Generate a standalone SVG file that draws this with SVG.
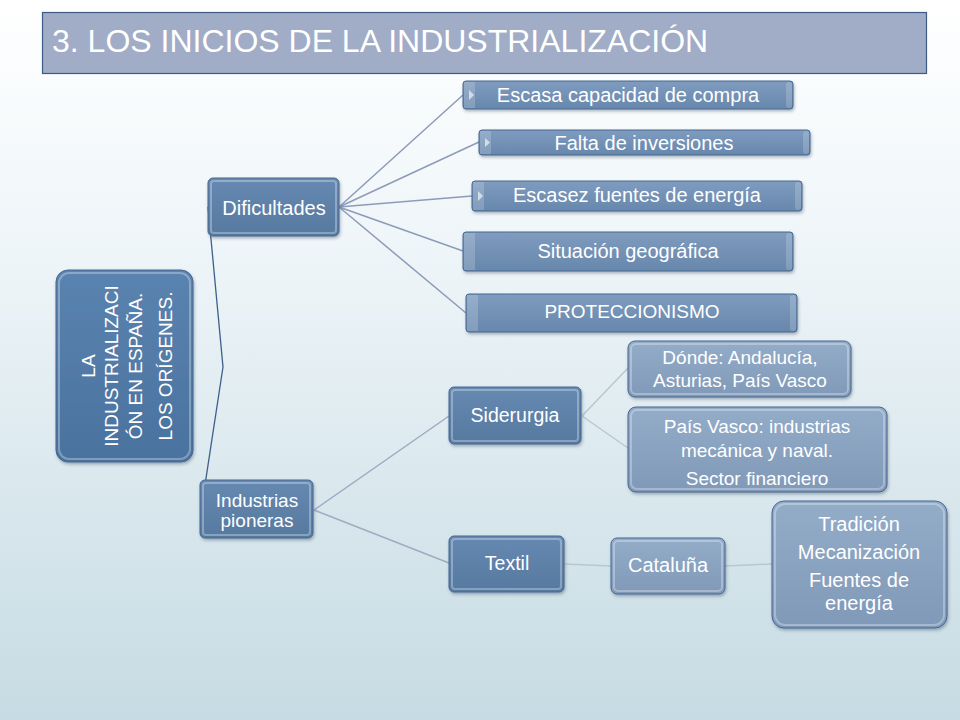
<svg xmlns="http://www.w3.org/2000/svg" width="960" height="720" viewBox="0 0 960 720">
<defs>
<linearGradient id="bg" x1="0" y1="0" x2="0" y2="1">
<stop offset="0" stop-color="#ffffff"/>
<stop offset="0.35" stop-color="#eef5f8"/>
<stop offset="1" stop-color="#c6dbe3"/>
</linearGradient>
<linearGradient id="gDark" x1="0" y1="0" x2="0" y2="1">
<stop offset="0" stop-color="#5a83b0"/>
<stop offset="1" stop-color="#4a729e"/>
</linearGradient>
<linearGradient id="gMid" x1="0" y1="0" x2="0" y2="1">
<stop offset="0" stop-color="#6689b2"/>
<stop offset="1" stop-color="#56799f"/>
</linearGradient>
<linearGradient id="gList" x1="0" y1="0" x2="0" y2="1">
<stop offset="0" stop-color="#7f9cbf"/>
<stop offset="1" stop-color="#6787ac"/>
</linearGradient>
<linearGradient id="gLight" x1="0" y1="0" x2="0" y2="1">
<stop offset="0" stop-color="#93acc8"/>
<stop offset="1" stop-color="#8099b8"/>
</linearGradient>
<filter id="sh" x="-10%" y="-10%" width="120%" height="130%">
<feDropShadow dx="1" dy="2" stdDeviation="1.5" flood-color="#2c3e55" flood-opacity="0.35"/>
</filter>
</defs>
<style>
.t{font-family:"Liberation Sans",Arial,sans-serif;fill:#ffffff;text-anchor:middle;}
.n{stroke:#476892;stroke-width:1;filter:url(#sh);}
.hl{fill:none;stroke:#ffffff;stroke-opacity:0.3;stroke-width:2;}
.c1{fill:none;stroke:#8c9bb9;stroke-width:1.5;}
.c2{fill:none;stroke:#9eacc2;stroke-width:1.5;}
.c3{fill:none;stroke:#bac6d2;stroke-width:1.5;}
.tab{fill:#ffffff;fill-opacity:0.18;}
.tri{fill:#d3dde9;}
</style>
<rect x="0" y="0" width="960" height="720" fill="url(#bg)"/>

<g id="title">
<rect x="42.5" y="12.5" width="884" height="61" fill="#a1acc7" stroke="#3d5a84" stroke-width="1.2"/>
<text x="52" y="52" font-family="Liberation Sans, Arial, sans-serif" font-size="32" fill="#ffffff">3. LOS INICIOS DE LA INDUSTRIALIZACIÓN</text>
</g>

<g id="connectors">
<polyline class="c1" points="208,207 223,367 201,511" style="stroke:#3e608a;stroke-width:1.3"/>
<line class="c1" x1="339" y1="207" x2="463" y2="95"/>
<line class="c1" x1="339" y1="207" x2="479" y2="142"/>
<line class="c1" x1="339" y1="207" x2="472" y2="196"/>
<line class="c1" x1="339" y1="207" x2="463" y2="251"/>
<line class="c1" x1="339" y1="207" x2="466" y2="313"/>
<line class="c2" x1="314" y1="510" x2="449" y2="416"/>
<line class="c2" x1="314" y1="510" x2="449" y2="563"/>
<line class="c3" x1="582" y1="416" x2="628" y2="368"/>
<line class="c3" x1="582" y1="416" x2="628" y2="448"/>
<line class="c3" x1="564" y1="564" x2="611" y2="566"/>
<line class="c3" x1="725" y1="566" x2="772" y2="564"/>
</g>

<g id="root">
<rect class="n" x="56" y="270" width="137" height="192" rx="12" fill="url(#gDark)"/>
<rect class="hl" x="59" y="273" width="131" height="186" rx="10"/>
<text class="t" font-size="19" transform="translate(95,366) rotate(-90)">LA</text>
<text class="t" font-size="19" transform="translate(118,366) rotate(-90)">INDUSTRIALIZACI</text>
<text class="t" font-size="19" transform="translate(142,366) rotate(-90)">ÓN EN ESPAÑA.</text>
<text class="t" font-size="19" transform="translate(172,366) rotate(-90)">LOS ORÍGENES.</text>
</g>

<g id="dificultades">
<rect class="n" x="208" y="178" width="131" height="58" rx="5" fill="url(#gMid)"/>
<rect class="hl" x="211" y="181" width="125" height="52" rx="3"/>
<text class="t" font-size="20" x="274" y="215">Dificultades</text>
</g>

<g id="industrias">
<rect class="n" x="200" y="480" width="113" height="58" rx="5" fill="url(#gMid)"/>
<rect class="hl" x="203" y="483" width="107" height="52" rx="3"/>
<text class="t" font-size="19" x="257" y="507">Industrias</text>
<text class="t" font-size="19" x="257" y="527">pioneras</text>
</g>

<g id="escasa">
<rect class="n" x="463" y="81" width="330" height="28" rx="3" fill="url(#gList)"/>
<rect class="tab" x="464" y="82" width="11" height="26"/>
<polygon class="tri" points="469,90 474,95 469,100"/>
<rect class="tab" x="786" y="82" width="6" height="26" rx="3"/>
<text class="t" font-size="20" x="628" y="102">Escasa capacidad de compra</text>
</g>

<g id="falta">
<rect class="n" x="479" y="130" width="331" height="25" rx="3" fill="url(#gList)"/>
<rect class="tab" x="480" y="131" width="11" height="23"/>
<polygon class="tri" points="485,138 490,142.5 485,147"/>
<rect class="tab" x="803" y="131" width="6" height="23" rx="3"/>
<text class="t" font-size="20" x="644" y="150">Falta de inversiones</text>
</g>

<g id="escasez">
<rect class="n" x="472" y="181" width="330" height="30" rx="3" fill="url(#gList)"/>
<rect class="tab" x="473" y="182" width="11" height="28"/>
<polygon class="tri" points="478,191 483,196 478,201"/>
<rect class="tab" x="795" y="182" width="6" height="28" rx="3"/>
<text class="t" font-size="20" x="637" y="202">Escasez fuentes de energía</text>
</g>

<g id="situacion">
<rect class="n" x="463" y="232" width="330" height="39" rx="3" fill="url(#gList)"/>
<rect class="tab" x="464" y="233" width="11" height="37"/>
<rect class="tab" x="786" y="233" width="6" height="37" rx="3"/>
<text class="t" font-size="20" x="628" y="258">Situación geográfica</text>
</g>

<g id="proteccionismo">
<rect class="n" x="466" y="294" width="331" height="38" rx="3" fill="url(#gList)"/>
<rect class="tab" x="467" y="295" width="11" height="36"/>
<rect class="tab" x="790" y="295" width="6" height="36" rx="3"/>
<text class="t" font-size="19" x="632" y="318">PROTECCIONISMO</text>
</g>

<g id="siderurgia">
<rect class="n" x="449" y="387" width="132" height="57" rx="5" fill="url(#gMid)"/>
<rect class="hl" x="452" y="390" width="126" height="51" rx="3"/>
<text class="t" font-size="19.5" x="515" y="422">Siderurgia</text>
</g>

<g id="textil">
<rect class="n" x="449" y="536" width="115" height="56" rx="5" fill="url(#gMid)"/>
<rect class="hl" x="452" y="539" width="109" height="50" rx="3"/>
<text class="t" font-size="19.5" x="507" y="570">Textil</text>
</g>

<g id="donde">
<rect class="n" x="628" y="341" width="223" height="56" rx="7" fill="url(#gLight)"/>
<rect class="hl" x="631" y="344" width="217" height="50" rx="5"/>
<text class="t" font-size="19" x="740" y="364">Dónde: Andalucía,</text>
<text class="t" font-size="19" x="740" y="387">Asturias, País Vasco</text>
</g>

<g id="paisvasco">
<rect class="n" x="628" y="407" width="259" height="85" rx="8" fill="url(#gLight)"/>
<rect class="hl" x="631" y="410" width="253" height="79" rx="6"/>
<text class="t" font-size="19" x="757" y="433">País Vasco: industrias</text>
<text class="t" font-size="19" x="757" y="457">mecánica y naval.</text>
<text class="t" font-size="19" x="757" y="485">Sector financiero</text>
</g>

<g id="cataluna">
<rect class="n" x="611" y="538" width="114" height="56" rx="6" fill="url(#gLight)"/>
<rect class="hl" x="614" y="541" width="108" height="50" rx="4"/>
<text class="t" font-size="20" x="668" y="572">Cataluña</text>
</g>

<g id="tradicion">
<rect class="n" x="772" y="501" width="175" height="127" rx="12" fill="url(#gLight)"/>
<rect class="hl" x="775" y="504" width="169" height="121" rx="10"/>
<text class="t" font-size="20" x="859" y="531">Tradición</text>
<text class="t" font-size="20" x="859" y="559">Mecanización</text>
<text class="t" font-size="20" x="859" y="587">Fuentes de</text>
<text class="t" font-size="20" x="859" y="610">energía</text>
</g>
</svg>
